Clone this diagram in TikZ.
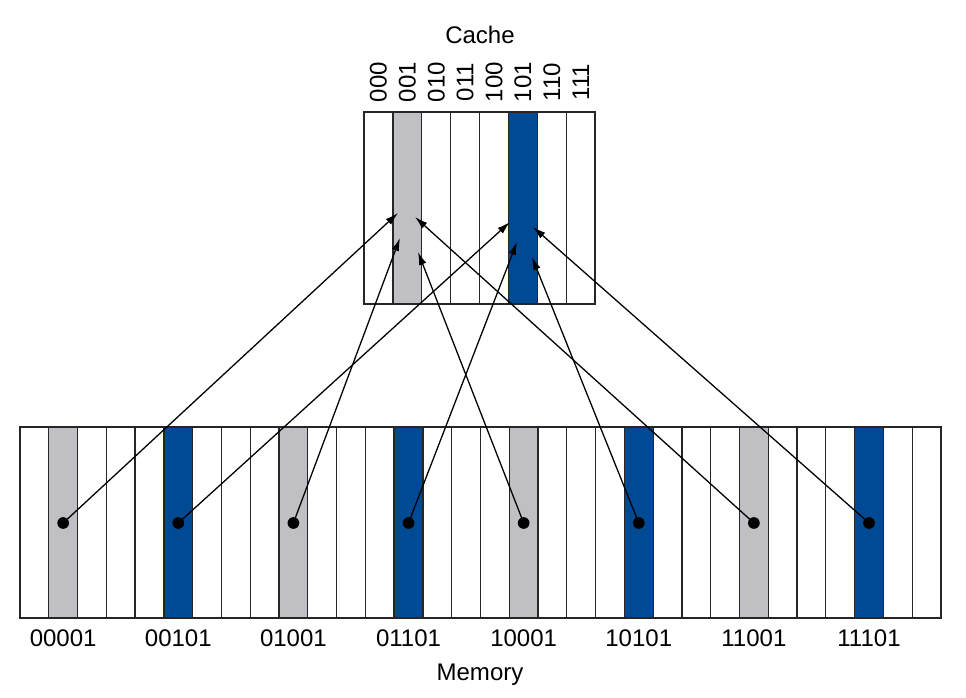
\documentclass[tikz,border=0pt]{standalone}
\usepackage{fontspec}
\setmainfont{Liberation Sans}
\usetikzlibrary{arrows.meta}
\definecolor{GrayClr}{rgb}{0.75,0.75,0.77}
\definecolor{BlueClr}{rgb}{0,0.29,0.58}
\definecolor{LineClr}{rgb}{0.15,0.15,0.15}

\begin{document}
\begin{tikzpicture}[x=0.03cm,y=-0.03cm,
  cell/.style={draw=LineClr,line width=1.1pt},
  dot/.style={circle,fill=black,inner sep=0pt,minimum size=10pt},
  link/.style={line width=1.1pt,-{Latex[length=11pt,width=6.5pt]}},
  txt/.style={font=\fontsize{20.5}{24}\selectfont}]
\useasboundingbox (0,0) rectangle (966,698);

% memory
\foreach \i in {0,...,31}{
  \pgfmathtruncatemacro{\r}{mod(\i,8)}
  \ifnum\r=1 \def\clr{GrayClr}\else\ifnum\r=5 \def\clr{BlueClr}\else\def\clr{white}\fi\fi
  \draw[cell,fill=\clr] ({20+\i*28.78},427) rectangle ({20+(\i+1)*28.78},618);
}
\draw[line width=1.4pt,draw=LineClr] (20,427) rectangle (941,618);

% cache
\foreach \i/\lbl in {0/000,1/001,2/010,3/011,4/100,5/101,6/110,7/111}{
  \pgfmathtruncatemacro{\r}{\i}
  \ifnum\r=1 \def\clr{GrayClr}\else\ifnum\r=5 \def\clr{BlueClr}\else\def\clr{white}\fi\fi
  \draw[cell,fill=\clr] ({364+\i*28.9},112) rectangle ({364+(\i+1)*28.9},304);
  \node[txt,rotate=90] (l\i) at ({364+(\i+0.5)*28.9},82) {\lbl};
}
\draw[line width=1.4pt,draw=LineClr] (364,112) rectangle (595,304);

\node[txt] (cache) at (480,35) {Cache};
\node[txt] (memory) at (480,675) {Memory};

% blocks and arrows
\foreach \k/\lbl/\tx/\ty in {0/00001/398/213,1/00101/510/222,2/01001/400/238,3/01101/517/242,
                             4/10001/418/252,5/10101/532/257,6/11001/415/217,7/11101/533/227}{
  \node[dot] (m\k) at ({20+(4*\k+1.5)*28.78},523) {};
  \node[txt] (n\k) at ({20+(4*\k+1.5)*28.78},638) {\lbl};
  \coordinate (t\k) at (\tx,\ty);
  \draw[link] (m\k.center) -- (t\k);
}
\end{tikzpicture}
\end{document}
